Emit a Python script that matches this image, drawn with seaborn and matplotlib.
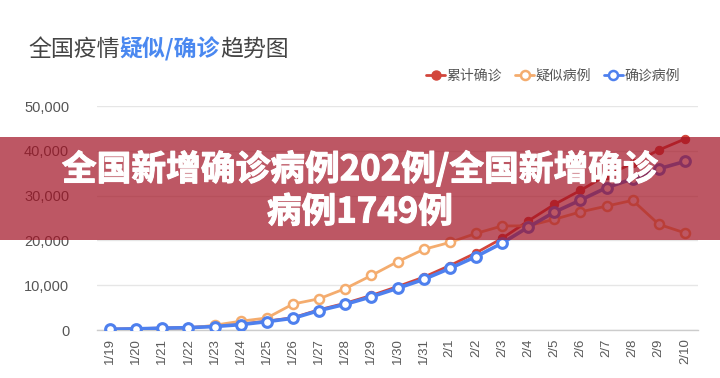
import numpy as np
import pandas as pd
import matplotlib
matplotlib.use("Agg")
import matplotlib.pyplot as plt
import matplotlib.patheffects as pe
from matplotlib.patches import Rectangle
from matplotlib.lines import Line2D
from matplotlib.ticker import FuncFormatter, FixedLocator
import seaborn as sns

# data
dates = ['1/19', '1/20', '1/21', '1/22', '1/23', '1/24', '1/25', '1/26', '1/27', '1/28',
         '1/29', '1/30', '1/31', '2/1', '2/2', '2/3', '2/4', '2/5', '2/6', '2/7',
         '2/8', '2/9', '2/10']
total_confirmed = [198, 291, 440, 571, 830, 1287, 1975, 2744, 4515, 5974,
                   7711, 9692, 11791, 14380, 17205, 20438, 24324, 28018, 31161, 34546,
                   37198, 40171, 42638]
suspected = [0, 0, 37, 393, 1072, 1965, 2684, 5794, 6973, 9239,
             12167, 15238, 17988, 19544, 21558, 23214, 23260, 24702, 26359, 27657,
             28942, 23589, 21675]
current_confirmed = [170, 260, 403, 526, 771, 1208, 1870, 2613, 4349, 5739,
                     7417, 9308, 11289, 13748, 16369, 19381, 22942, 26302, 28985, 31774,
                     33738, 35982, 37626]
series_names = ['累计确诊', '疑似病例', '确诊病例']

RED = '#d2463c'
ORANGE = '#f4ac6e'
BLUE = '#4e80ee'

sns.set_style("white")
plt.rcParams['font.family'] = ['Liberation Sans', 'Noto Sans CJK SC', 'DejaVu Sans']

df = pd.DataFrame({
    'pos': np.arange(len(dates)),
    'total': total_confirmed,
    'suspected': suspected,
    'current': current_confirmed,
})

fig = plt.figure(figsize=(7.2, 3.78), dpi=100)
ax = fig.add_axes([97 / 720, 1 - 330 / 378, 601 / 720, 224 / 378])

sns.lineplot(data=df, x='pos', y='total', ax=ax, color=RED, linewidth=2,
             marker='o', markersize=6, markerfacecolor=RED, markeredgecolor=RED, zorder=3)
sns.lineplot(data=df, x='pos', y='suspected', ax=ax, color=ORANGE, linewidth=2,
             marker='o', markersize=6.5, markerfacecolor='white', markeredgecolor=ORANGE,
             markeredgewidth=1.8, zorder=4)
sns.lineplot(data=df, x='pos', y='current', ax=ax, color=BLUE, linewidth=2.6,
             marker='o', markersize=7, markerfacecolor='white', markeredgecolor=BLUE,
             markeredgewidth=2.2, zorder=5)

ax.set_xlim(-0.5, len(dates) - 0.5)
ax.set_ylim(0, 50000)
ax.set_yticks(np.arange(0, 50001, 10000))
ax.yaxis.set_major_formatter(FuncFormatter(lambda v, p: f"{int(v):,}"))
ax.set_xticks(df['pos'])
ax.set_xticklabels(dates, rotation=90)
ax.xaxis.set_minor_locator(FixedLocator(np.arange(-0.5, len(dates), 1)))
ax.tick_params(axis='x', which='major', length=0, pad=6, labelsize=9.5, colors='#5a5a5a')
ax.tick_params(axis='x', which='minor', length=5, width=1, color='#cccccc', direction='out')
ax.tick_params(axis='y', length=0, pad=20, labelsize=10.5, colors='#555555')
ax.set_xlabel('')
ax.set_ylabel('')
ax.grid(axis='y', color='#e6e6e6', linewidth=1)
ax.set_axisbelow(True)
for s in ['left', 'top', 'right']:
    ax.spines[s].set_visible(False)
ax.spines['bottom'].set_color('#cccccc')
ax.spines['bottom'].set_linewidth(1)

# legend
handles = [
    Line2D([], [], color=RED, lw=2, marker='o', ms=6.5, mfc=RED, mec=RED),
    Line2D([], [], color=ORANGE, lw=2, marker='o', ms=6.5, mfc='white', mec=ORANGE, mew=1.8),
    Line2D([], [], color=BLUE, lw=2, marker='o', ms=6.5, mfc='white', mec=BLUE, mew=1.8),
]
fig.legend(handles, series_names, loc='center right', bbox_to_anchor=(680 / 720, 1 - 76 / 378),
           ncol=3, frameon=False, handlelength=1.4, handletextpad=0.1,
           columnspacing=0.9, borderpad=0, borderaxespad=0, labelcolor='#555555',
           prop={'family': ['Noto Sans CJK SC'], 'size': 10})

# title with coloured middle part
parts = [('全国疫情', '#444444'), ('疑似/确诊', '#4a88f0'), ('趋势图', '#444444')]
renderer = fig.canvas.get_renderer()
x = 28 / 720
for txt, col in parts:
    weight = 'bold' if col != '#444444' else 'normal'
    t = fig.text(x, 1 - 49 / 378, txt, color=col, fontsize=16.5, fontweight=weight,
                 family=['Noto Sans CJK SC'], va='center', ha='left')
    bb = t.get_window_extent(renderer=renderer)
    x = bb.x1 / fig.bbox.width

# red banner overlay
fig.add_artist(Rectangle((0, 1 - 240 / 378), 1, 103 / 378, transform=fig.transFigure,
                         facecolor=(162 / 255, 16 / 255, 34 / 255), alpha=0.7,
                         edgecolor='none', zorder=10))
heavy = [pe.Stroke(linewidth=0.8, foreground='white'), pe.Normal()]
fig.text(0.5, 1 - 169 / 378, '全国新增确诊病例202例/全国新增确诊', color='white',
         fontsize=25, fontweight='bold', family=['Noto Sans CJK SC'],
         ha='center', va='center', zorder=11, path_effects=heavy)
fig.text(0.5, 1 - 212 / 378, '病例1749例', color='white',
         fontsize=25, fontweight='bold', family=['Noto Sans CJK SC'],
         ha='center', va='center', zorder=11, path_effects=heavy)

fig.savefig('out.png', dpi=100)
